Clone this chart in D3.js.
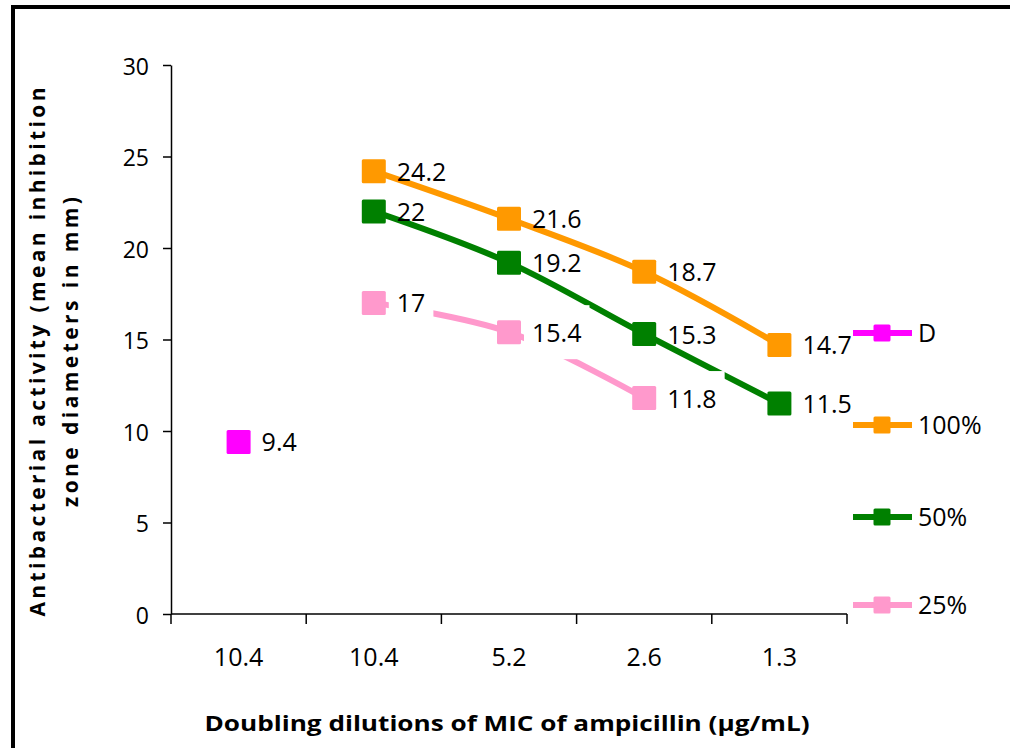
<!DOCTYPE html>
<html>
<head>
<meta charset="utf-8">
<script src="https://cdn.jsdelivr.net/npm/d3@7"></script>
<style>
  html, body { margin: 0; padding: 0; background: #fff; }
  svg { display: block; }
  text { font-family: "Open Sans", "DejaVu Sans", sans-serif; fill: #000; }
</style>
</head>
<body>
<svg id="chart" width="1010" height="748"></svg>
<script>
// Dilution categories on the x axis (the first two share the same label)
const categories = ["10.4", "10.4", "5.2", "2.6", "1.3"];

// Mean inhibition zone diameters (mm); null = not measured at that dilution
const seriesD    = [9.4, null, null, null, null];
const series100  = [null, 24.2, 21.6, 18.7, 14.7];
const series50   = [null, 22, 19.2, 15.3, 11.5];
const series25   = [null, 17, 15.4, 11.8, null];

const yTicks = [0, 5, 10, 15, 20, 25, 30];

const seriesList = [
  { name: "D",    values: seriesD,   color: "#FF00FF", labelBox: null },
  { name: "100%", values: series100, color: "#FF9900", labelBox: null },
  { name: "50%",  values: series50,  color: "#008000", labelBox: null },
  { name: "25%",  values: series25,  color: "#FF99CC", labelBox: { padX: 8, halfH: 27 } }
];

const svg = d3.select("#chart");

// Outer frame (top and left edges visible)
svg.append("path")
  .attr("d", "M13,760 L13,7 L1020,7")
  .attr("fill", "none")
  .attr("stroke", "#000")
  .attr("stroke-width", 4);

const plot = { left: 171, right: 847, top: 65, bottom: 614 };

const x = d3.scaleBand()
  .domain(d3.range(categories.length))
  .range([plot.left, plot.right])
  .padding(0);

const y = d3.scaleLinear()
  .domain([0, 30])
  .range([plot.bottom, plot.top]);

const cx = i => x(i) + x.bandwidth() / 2;

// Y axis
const yAxis = svg.append("g")
  .attr("transform", `translate(${plot.left},0)`)
  .call(d3.axisLeft(y).tickValues(yTicks).tickSize(8).tickPadding(14).tickSizeOuter(0));
yAxis.select(".domain").attr("stroke", "#000").attr("stroke-width", 1.5);
yAxis.selectAll(".tick line").attr("stroke", "#000").attr("stroke-width", 1.5);
yAxis.selectAll(".tick text")
  .attr("font-size", 23)
  .attr("dy", null)
  .attr("dominant-baseline", "central")
  .attr("font-family", "'Open Sans', sans-serif");

// X axis: tick marks on category boundaries, labels centred in each band
const boundaries = d3.range(categories.length + 1).map(i => plot.left + i * x.bandwidth());
const xAxisG = svg.append("g");
xAxisG.append("line")
  .attr("x1", plot.left).attr("x2", plot.right)
  .attr("y1", plot.bottom).attr("y2", plot.bottom)
  .attr("stroke", "#000").attr("stroke-width", 1.5);
xAxisG.selectAll("line.tick")
  .data(boundaries)
  .join("line")
  .attr("class", "tick")
  .attr("x1", d => d).attr("x2", d => d)
  .attr("y1", plot.bottom).attr("y2", plot.bottom + 10)
  .attr("stroke", "#000").attr("stroke-width", 1.5);
xAxisG.selectAll("text")
  .data(categories)
  .join("text")
  .attr("x", (d, i) => cx(i))
  .attr("y", 666)
  .attr("text-anchor", "middle")
  .attr("font-size", 25)
  .text(d => d);

// Axis titles
svg.append("text")
  .attr("x", 507).attr("y", 731)
  .attr("text-anchor", "middle")
  .attr("font-size", 22)
  .attr("font-weight", "bold")
  .attr("textLength", 605)
  .attr("lengthAdjust", "spacingAndGlyphs")
  .text("Doubling dilutions of MIC of ampicillin (µg/mL)");

const yTitle = svg.append("g").attr("transform", "translate(0,352) rotate(-90)");
yTitle.append("text")
  .attr("x", 0).attr("y", 45)
  .attr("text-anchor", "middle")
  .attr("font-size", 21)
  .attr("font-weight", "bold")
  .attr("textLength", 529)
  .attr("lengthAdjust", "spacing")
  .text("Antibacterial activity (mean inhibition");
yTitle.append("text")
  .attr("x", 0).attr("y", 78)
  .attr("text-anchor", "middle")
  .attr("font-size", 21)
  .attr("font-weight", "bold")
  .attr("textLength", 310)
  .attr("lengthAdjust", "spacing")
  .text("zone diameters in mm)");

// Series lines
const line = d3.line()
  .defined(d => d.v != null)
  .x(d => cx(d.i))
  .y(d => y(d.v))
  .curve(d3.curveCatmullRom.alpha(0.5));

const toPoints = s => s.values.map((v, i) => ({ i, v, s }));

seriesList.forEach(s => {
  svg.append("path")
    .datum(toPoints(s))
    .attr("d", line)
    .attr("fill", "none")
    .attr("stroke", s.color)
    .attr("stroke-width", 6)
    .attr("stroke-linejoin", "round");
});

// Markers
const M = 24;
seriesList.forEach(s => {
  svg.append("g").selectAll("rect")
    .data(toPoints(s).filter(d => d.v != null))
    .join("rect")
    .attr("x", d => cx(d.i) - M / 2)
    .attr("y", d => y(d.v) - M / 2)
    .attr("width", M).attr("height", M)
    .attr("rx", 1.5)
    .attr("fill", s.color);
});

// Data labels
seriesList.forEach(s => {
  const g = svg.append("g");
  const pts = toPoints(s).filter(d => d.v != null);
  const labels = g.selectAll("g.lbl")
    .data(pts)
    .join("g")
    .attr("class", "lbl");
  const texts = labels.append("text")
    .attr("x", d => cx(d.i) + 23)
    .attr("y", d => y(d.v) + 9.5)
    .attr("font-size", 25)
    .text(d => d.v);
  if (s.labelBox) {
    labels.each(function () {
      const t = d3.select(this).select("text");
      const bb = t.node().getBBox();
      const d = t.datum();
      d3.select(this).insert("rect", "text")
        .attr("x", bb.x - s.labelBox.padX)
        .attr("y", y(d.v) - s.labelBox.halfH)
        .attr("width", bb.width + 2 * s.labelBox.padX)
        .attr("height", 2 * s.labelBox.halfH)
        .attr("fill", "#fff");
    });
  }
});

// Legend
const legendY = [333, 425, 517, 605];
const legend = svg.append("g");
seriesList.forEach((s, k) => {
  const ly = legendY[k];
  legend.append("line")
    .attr("x1", 853).attr("x2", 912)
    .attr("y1", ly).attr("y2", ly)
    .attr("stroke", s.color).attr("stroke-width", 6);
  legend.append("rect")
    .attr("x", 882 - 8.5).attr("y", ly - 8.5)
    .attr("width", 17).attr("height", 17)
    .attr("rx", 1.5)
    .attr("fill", s.color);
  legend.append("text")
    .attr("x", 918).attr("y", ly + 9)
    .attr("font-size", 25)
    .text(s.name);
});
</script>
</body>
</html>
